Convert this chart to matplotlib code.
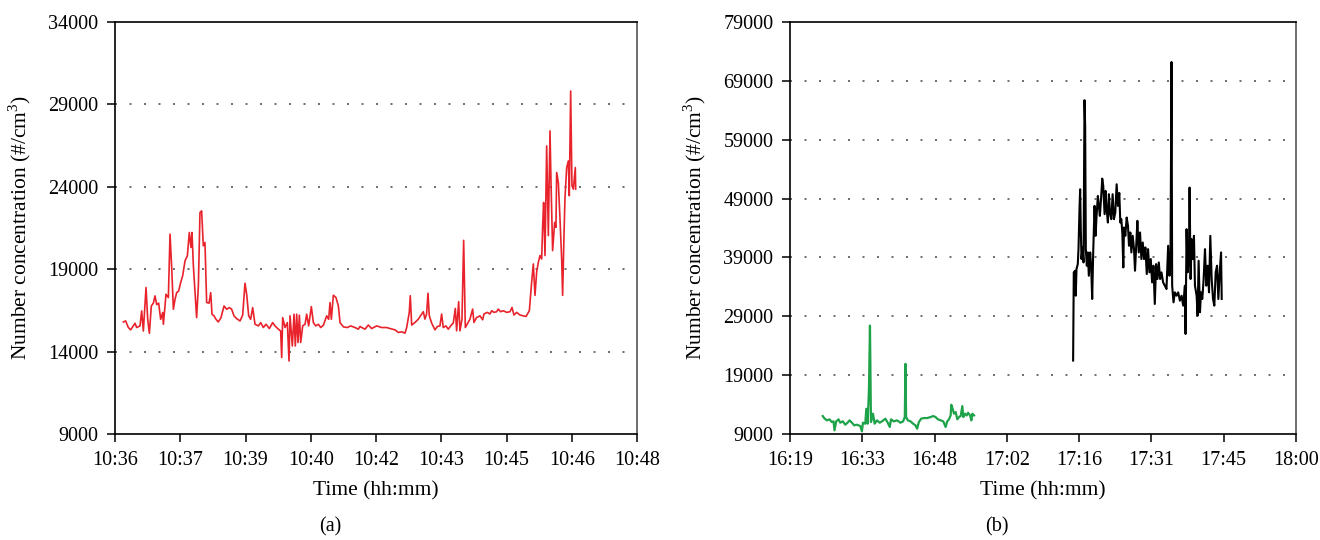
import matplotlib
matplotlib.use('Agg')
from matplotlib import pyplot as plt

# # Panel (a): red series, time in seconds after 10:36:00
red_t = [11.5, 14.7, 18.4, 21.6, 25.3, 27.6, 29.9, 34.5, 36.8, 39.1, 42.8, 45.1, 47.4, 50.1,
         52.9, 55.2, 57.5, 60.2, 63.0, 65.8, 66.7, 69.0, 70.3, 73.6, 75.9, 78.2, 80.5, 82.8,
         85.1, 87.8, 90.6, 93.3, 96.6, 99.8, 102.5, 104.8, 106.2, 108.1, 110.4, 112.6, 115.0,
         117.2, 119.5, 121.8, 124.1, 126.4, 129.7, 132.0, 133.8, 136.6, 139.3, 142.5, 146.2,
         150.4, 154.0, 157.7, 160.9, 164.1, 167.8, 172.4, 176.1, 179.3, 181.6, 184.4, 187.1,
         189.9, 193.1, 197.7, 201.0, 204.6, 208.3, 212.9, 217.5, 220.7, 225.3, 228.5, 229.9,
         231.3, 234.5, 237.7, 240.0, 241.4, 244.6, 246.9, 248.7, 250.6, 252.4, 254.3, 256.1,
         258.9, 262.1, 264.4, 267.1, 270.8, 273.6, 276.8, 280.5, 283.7, 287.4, 292.0, 294.7,
         296.6, 298.4, 301.2, 304.8, 308.1, 310.4, 315.0, 320.5, 325.1, 331.1, 335.6,
         337.9, 344.8, 349.4, 354.0, 360.9, 367.8, 374.7, 379.3, 386.2, 390.8, 395.4, 400.0,
         402.3, 405.9, 407.3, 409.2, 413.8, 418.4, 423.0, 425.3, 427.5, 429.8, 431.7, 433.5,
         436.8, 441.3, 444.6, 448.2, 450.5, 452.8, 456.5, 459.7, 463.0, 466.6, 469.4, 471.2,
         474.0, 475.8, 478.6, 480.9, 483.2, 485.9, 489.6, 493.3, 495.1, 498.8, 503.4, 507.1,
         508.9, 513.5, 517.2, 519.5, 522.7, 526.4, 528.7, 531.9, 535.6, 540.2, 544.8, 547.6,
         550.3, 554.0, 558.6, 563.2, 566.9, 571.5, 574.7, 577.0, 579.3, 581.6, 583.9, 586.2,
         588.5, 589.9, 591.2, 593.1, 595.4, 597.7, 600.0, 601.3, 603.6, 606.4, 608.2, 609.2,
         611.5, 613.8, 616.1, 617.4, 619.3, 620.7, 623.0, 625.3, 626.6, 628.5, 630.3, 632.2,
         634.9, 635.4]
red_v = [15800, 15860, 15460, 15320, 15560, 15720, 15460, 15560, 16470, 15250, 17890, 15960,
         15110, 16770, 16940, 17380, 16850, 16940, 15960, 16370, 15660, 16770, 17480, 17280,
         21130, 19100, 16570, 17180, 17580, 17680, 18190, 18600, 19510, 19810, 21230, 20320,
         21230, 19200, 17580, 16060, 17990, 22440, 22540, 20420, 20620, 16980, 16940, 17580,
         16270, 16170, 15960, 15800, 16060, 16770, 16570, 16670, 16570, 16170, 16000, 15860,
         16210, 18150, 17480, 16170, 15960, 16670, 15660, 15560, 15760, 15460, 15660, 15400,
         15760, 15560, 15360, 15250, 13640, 16060, 15460, 15760, 13430, 16170, 14340, 16270,
         14340, 16270, 14550, 16210, 14550, 15560, 15660, 16270, 15560, 16730, 15760, 15560,
         15660, 15460, 15600, 16170, 15960, 16980, 15960, 17420, 17280, 16770, 15760, 15500,
         15460, 15560, 15460, 15360,
         15520, 15360, 15610, 15400, 15560, 15460, 15460, 15400, 15320, 15160, 15200, 15120,
         15460, 16380, 17390, 15610, 15770, 15970, 16280, 16420, 15970, 16280, 17540, 16170,
         15730, 15320, 15520, 15560, 16280, 15460, 15560, 15360, 15560, 15730, 16620, 15260,
         17030, 15260, 15970, 20750, 15460, 15670, 15970, 16580, 15770, 16070, 16170, 15930,
         16280, 16380, 16280, 16480, 16380, 16420, 16580, 16420, 16480, 16380, 16420, 16680,
         16220, 16380, 16220, 16170, 16130, 16480, 18210, 19320, 17410, 18820, 19420, 19830,
         19620, 21640, 23050, 19830, 26480, 21040, 27390, 24460, 20130, 21840, 21540, 24870,
         24260, 22040, 19620, 17410, 21040, 23350, 25170, 25570, 23460, 29810, 24060, 23860,
         25170, 23860]

a_ticks = [0, 90, 180, 270, 360, 450, 540, 630, 720]
a_labels = ['10:36', '10:37', '10:39', '10:40', '10:42', '10:43', '10:45', '10:46', '10:48']
a_yticks = [9000, 14000, 19000, 24000, 29000, 34000]

# # Panel (b): time in minutes after 16:00
green_t = [25.73, 26.00, 26.53, 27.07, 27.53, 27.87, 28.07, 28.40, 28.87, 29.20, 29.73, 30.20,
           30.67, 31.07, 31.53, 32.00, 32.53, 33.20, 33.53, 33.73, 34.20, 34.40, 34.67, 34.93,
           35.13, 35.33, 35.73, 36.07, 36.53, 37.07, 37.53, 38.20, 38.67, 39.07, 39.33, 39.87,
           40.53, 41.20, 41.73, 42.07, 42.20, 42.33, 42.67, 43.20, 43.73, 44.20, 44.53, 44.87,
           45.33, 45.87, 46.53, 47.20, 47.73, 48.20, 48.67, 49.20, 49.73, 50.20, 50.53, 50.87,
           51.20, 51.33, 51.60, 51.87, 52.20, 52.53, 52.87, 53.20, 53.53, 53.73, 54.07, 54.40,
           54.67, 55.07, 55.33, 55.53, 55.87]
green_v = [12050, 11710, 11320, 11490, 11030, 11150, 9620, 11150, 11490, 10920, 11150, 10580,
           10920, 11320, 10920, 10470, 10580, 10350, 9450, 10920, 10750, 13290, 10750, 16680,
           27420, 11030, 12450, 10750, 11320, 10920, 11150, 11600, 10920, 10190, 11490, 11150,
           11320, 10920, 11150, 11880, 20920, 11880, 11320, 11150, 10750, 10470, 9900, 11030,
           11600, 11710, 11710, 11880, 12050, 11880, 11490, 11320, 11150, 10190, 11150, 11490,
           12160, 13970, 13290, 12450, 12730, 11490, 11880, 12050, 13740, 11880, 12450, 12160,
           12610, 12160, 11320, 12450, 12160]

black_t = [75.60, 75.73, 76.00, 76.13, 76.27, 76.53, 76.67, 76.87, 77.00, 77.13, 77.27, 77.47,
           77.67, 77.87, 78.00, 78.13, 78.33, 78.53, 78.73, 79.00, 79.20, 79.40, 79.60, 79.87,
           80.07, 80.27, 80.53, 80.73, 80.93, 81.20, 81.40, 81.60, 81.87, 82.07, 82.27, 82.53,
           82.73, 82.93, 83.20, 83.47, 83.73, 84.00, 84.27, 84.53, 84.80, 85.00, 85.20, 85.40,
           85.60, 85.73, 86.00, 86.27, 86.53, 86.73, 87.00, 87.20, 87.47, 87.73, 87.93, 88.20,
           88.40, 88.67, 88.93, 89.20, 89.47, 89.73, 90.00, 90.27, 90.53, 90.80, 91.07, 91.33,
           91.60, 91.87, 92.13, 92.40, 92.67, 92.93, 93.20, 93.53, 93.87, 94.20, 94.53, 94.80,
           95.00, 95.20, 95.33, 95.60, 95.87, 96.20, 96.53, 96.87, 97.20, 97.53, 97.87, 98.00,
           98.20, 98.40, 98.67, 98.80, 99.00, 99.20, 99.47, 99.67, 99.87, 100.20, 100.40,
           100.60, 100.87, 101.07, 101.33, 101.60, 101.87, 102.13, 102.40, 102.67, 102.93,
           103.20, 103.47, 103.73, 104.00, 104.27, 104.53, 104.80, 105.07, 105.20]
black_v = [21480, 36460, 36740, 32500, 37020, 37870, 40410, 47190, 50580, 43800, 38720, 40700,
           38150, 65720, 61320, 40410, 37590, 39850, 35890, 39850, 37310, 31940, 39850, 47760,
           42670, 46060, 49450, 47760, 46060, 49450, 52390, 51150, 46350, 50300, 47190, 44930,
           49740, 46630, 45500, 49740, 45500, 46630, 51430, 47760, 49960, 44930, 45500, 43240,
           37300, 44080, 42670, 45780, 44370, 40980, 43240, 39850, 42670, 40410, 36740, 41540,
           45220, 39850, 43240, 38720, 41540, 38720, 40700, 36180, 40410, 36460, 38720, 34760,
           37590, 31090, 37870, 35330, 38150, 35330, 36460, 34760, 34200, 33630, 40980, 35890,
           38720, 72200, 34200, 31370, 33070, 32500, 33070, 31650, 32500, 30810, 34200, 26000,
           43800, 36460, 38720, 50870, 35330, 42110, 38720, 42670, 34200, 32500, 29110, 38440,
           29680, 33070, 31940, 35330, 40410, 34200, 37590, 33070, 42670, 35330, 31940, 30810,
           36460, 37590, 31940, 36460, 39850, 31940]

b_ticks = [19.2, 33.6, 48.0, 62.4, 76.8, 91.2, 105.6, 120.0]
b_labels = ['16:19', '16:33', '16:48', '17:02', '17:16', '17:31', '17:45', '18:00']
b_yticks = [9000, 19000, 29000, 39000, 49000, 59000, 69000, 79000]

plt.rcParams['font.family'] = ['Liberation Serif', 'DejaVu Serif']
plt.rcParams['mathtext.fontset'] = 'custom'
plt.rcParams['mathtext.rm'] = 'Liberation Serif'

fig = plt.figure(figsize=(13.2, 5.4), dpi=100)

ax1 = fig.add_axes([115 / 1320, 1 - 434 / 540, 522 / 1320, 412 / 540])
ax2 = fig.add_axes([790 / 1320, 1 - 434 / 540, 506 / 1320, 412 / 540])

ax1.plot(red_t, red_v, color='#e8232b', lw=1.2)
ax2.plot(green_t, green_v, color='#1fa34a', lw=1.6)
ax2.plot(black_t, black_v, color='black', lw=1.5)

ylab = 'Number concentration (#/cm$^3$)'

# format both panels the same way
for ax, xt, xl, yt in [(ax1, a_ticks, a_labels, a_yticks), (ax2, b_ticks, b_labels, b_yticks)]:
    ax.set_xlim(xt[0], xt[-1])
    ax.set_ylim(yt[0], yt[-1])
    ax.set_xticks(xt)
    ax.set_xticklabels(xl)
    ax.set_yticks(yt)
    ax.tick_params(axis='both', direction='out', length=6, width=1.1, pad=6, labelsize=14.5)
    # dotted grid at inner y ticks only
    for y in yt[1:-1]:
        ax.axhline(y, color='#555555', lw=1.2, ls=(0, (1.2, 7.5)), zorder=0)
    for s in ax.spines.values():
        s.set_linewidth(1.2)
    ax.spines['right'].set_color('#555555')
    ax.set_xlabel('Time (hh:mm)', fontsize=15.5)
    ax.set_ylabel(ylab, fontsize=15.5)
    ax.xaxis.set_label_coords(0.5, -0.115)

ax1.yaxis.set_label_coords(-0.157, 0.5)
ax2.yaxis.set_label_coords(-0.162, 0.5)

fig.text(330 / 1320, 1 - 527 / 540, '(a)', ha='center', va='center', fontsize=14.5)
fig.text(997 / 1320, 1 - 527 / 540, '(b)', ha='center', va='center', fontsize=14.5)

fig.savefig('out.png', dpi=100)
